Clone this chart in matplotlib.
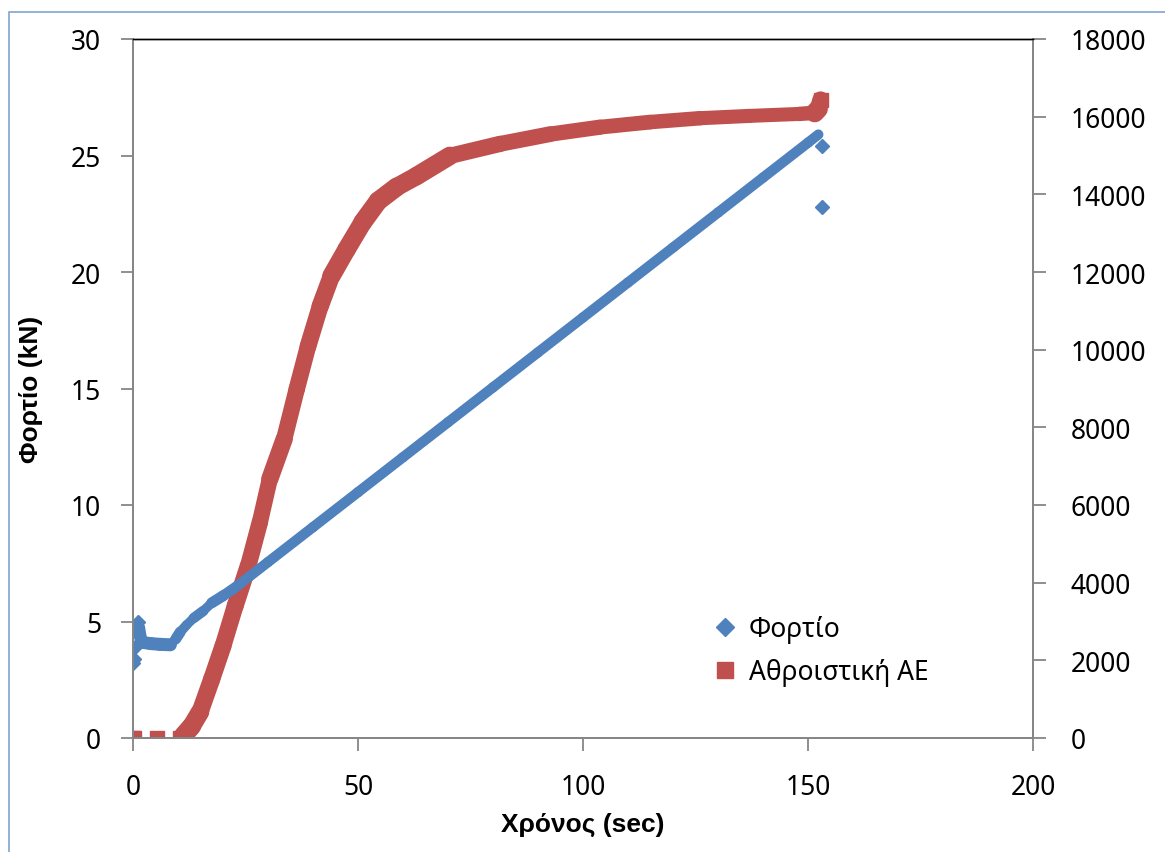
import matplotlib
matplotlib.use('Agg')
from matplotlib import pyplot as plt
from matplotlib import patches as mpatches
from matplotlib.lines import Line2D
from matplotlib.collections import LineCollection
import numpy as np

plt.rcParams['font.family'] = ['Noto Sans', 'DejaVu Sans']

# Load (kN) vs time (sec)
load_time = [0, 0.2, 0.4, 0.8, 1.0, 1.3, 1.6, 2.2, 4, 6, 8.3, 9.5, 10.5, 11.9, 13.5, 15.6, 17.5, 20, 23,
             30, 40, 50, 60, 70, 80, 90, 100, 110, 120, 130, 140, 150, 152.3, 153.1, 153.1]
load_kn = [3.2, 3.4, 3.9, 4.8, 5.0, 4.7, 4.35, 4.1, 4.05, 4.02, 4.0, 4.25, 4.55, 4.85, 5.15, 5.45, 5.8, 6.1, 6.5,
           7.55, 9.05, 10.55, 12.05, 13.55, 15.05, 16.55, 18.05, 19.55, 21.05, 22.55, 24.05, 25.55, 25.9, 25.4, 22.8]
load_band = (5, 33)     # points that form the continuous band

# Cumulative AE vs time (sec)
ae_time = [0, 0.3, 5.3, 10.4, 11.2, 13.0, 14.9, 17.5, 20, 22.7, 25.6, 28.2, 30.4, 33.6, 36.4, 38.9, 41.6,
           44.1, 47.5, 51.1, 54.5, 58.6, 63, 70.4, 81.6, 92.7, 103.8, 114.9, 126, 137, 148, 151.5, 152.3,
           152.6, 152.8]
ae_cum = [0, 0, 0, 0, 60, 300, 670, 1520, 2370, 3400, 4430, 5560, 6670, 7700, 8990, 10090, 11120,
          11900, 12590, 13290, 13830, 14190, 14470, 14990, 15300, 15550, 15730, 15860, 15960, 16020, 16070,
          16100, 16200, 16350, 16440]
ae_band = (4, 35)

blue = '#4F81BD'
red = '#C0504D'
axis_grey = '#868686'
bold_font = ['Liberation Sans', 'DejaVu Sans']
DPI = 100


def swept_band(a, xs, ys, size_px, diamond, color, z):
    # dense Excel markers merge into a band; its width depends on the direction of travel
    pts = a.transData.transform(np.column_stack([xs, ys]))
    segs, widths = [], []
    side = size_px / np.sqrt(2) if diamond else size_px
    for i in range(len(xs) - 1):
        dx, dy = pts[i + 1] - pts[i]
        th = np.arctan2(dy, dx) - (np.pi / 4 if diamond else 0)
        w = side * (abs(np.cos(th)) + abs(np.sin(th)))
        segs.append([(xs[i], ys[i]), (xs[i + 1], ys[i + 1])])
        widths.append(w * 72 / DPI)
    lc = LineCollection(segs, linewidths=widths, colors=color, capstyle='round', joinstyle='round', zorder=z)
    a.add_collection(lc)


fig = plt.figure(figsize=(11.65, 8.53), dpi=DPI)
ax = fig.add_axes([133 / 1165, 114 / 853, 900 / 1165, 699 / 853])
ax2 = ax.twinx()

ax.set_xlim(0, 200)
ax.set_ylim(0, 30)
ax2.set_ylim(0, 18000)
ax.set_xticks([0, 50, 100, 150, 200])
ax.set_yticks([0, 5, 10, 15, 20, 25, 30])
ax2.set_yticks(range(0, 18001, 2000))

ax.set_zorder(ax2.get_zorder() + 1)
ax.patch.set_visible(False)

# AE on the secondary axis
b0, b1 = ae_band
swept_band(ax2, ae_time[b0:b1], ae_cum[b0:b1], 13.5, False, red, 1)
ax2.plot(ae_time[:b0], ae_cum[:b0], ls='none', marker='s', ms=9.7, color=red, zorder=1)
ax2.plot(ae_time[b1 - 1:], ae_cum[b1 - 1:], ls='none', marker='s', ms=9.7, color=red, zorder=1)

# load on the primary axis
b0, b1 = load_band
swept_band(ax, load_time[b0:b1], load_kn[b0:b1], 13, True, blue, 2)
ax.plot(load_time[:b0], load_kn[:b0], ls='none', marker='D', ms=7, color=blue, zorder=2)
ax.plot(load_time[b1:], load_kn[b1:], ls='none', marker='D', ms=7, color=blue, zorder=2)

for a in (ax, ax2):
    for side in ('left', 'right', 'bottom'):
        a.spines[side].set_color(axis_grey)
        a.spines[side].set_linewidth(1.3)
    a.spines['top'].set_color('black')
    a.spines['top'].set_linewidth(1.0)
    a.tick_params(direction='out', length=9, width=1.3, color=axis_grey, labelsize=19, pad=14)
ax.tick_params(axis='x', pad=16)
ax2.tick_params(axis='y', pad=18)

ax.set_xlabel('Χρόνος (sec)', fontsize=19, fontweight='bold', family=bold_font, labelpad=8)
ax.set_ylabel('Φορτίο (kN)', fontsize=19, fontweight='bold', family=bold_font, labelpad=20)

handles = [Line2D([], [], ls='none', marker='D', ms=9, color=blue, label='Φορτίο'),
           Line2D([], [], ls='none', marker='s', ms=11, color=red, label='Αθροιστική ΑΕ')]
ax.legend(handles=handles, loc='center left', bbox_to_anchor=(0.62, 0.125), frameon=False,
          fontsize=19, handlelength=0.8, handletextpad=0.5, labelspacing=0.55)

# outer chart border (only left and top are inside the picture)
fig.patches.append(mpatches.Rectangle((8.5 / 1165, -0.05), 1.2, (840 + 0.05 * 853) / 853,
                                      transform=fig.transFigure, fill=False, edgecolor='#7FA3D6', lw=1.2))

fig.savefig('out.png', dpi=DPI)
